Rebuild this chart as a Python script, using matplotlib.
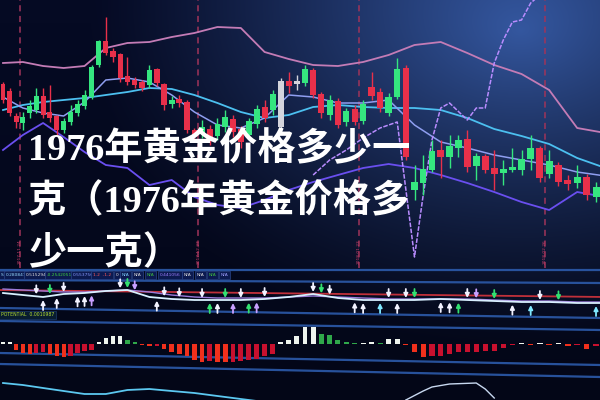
import numpy as np
import matplotlib
matplotlib.use("Agg")
from matplotlib import pyplot as plt

# ---- candles (price levels) ----
opens = [215, 208, 183, 177, 187, 190, 203, 187, 183, 170, 178, 187, 194, 203, 235,
         258, 248, 245, 223, 219, 217, 215, 230, 215, 196, 200, 197, 169, 167, 170,
         164, 173, 180, 170, 165, 176, 192, 190, 173, 218, 216, 217, 229, 205, 185,
         198, 178, 190, 179, 212, 207, 187, 203, 231, 110, 117, 130, 149, 143, 152,
         160, 134, 143, 131, 127, 130, 130, 141, 151, 126, 134, 119, 117, 122, 103]
closes = [200, 187, 178, 182, 193, 203, 185, 182, 170, 178, 187, 195, 204, 232, 258,
          247, 243, 222, 218, 215, 212, 229, 217, 195, 199, 197, 170, 165, 172, 160,
          175, 182, 168, 158, 178, 190, 182, 205, 218, 214, 218, 230, 205, 187, 199,
          175, 188, 178, 195, 204, 192, 202, 230, 143, 117, 130, 148, 143, 153, 159,
          133, 143, 130, 126, 130, 132, 140, 151, 122, 138, 118, 116, 122, 105, 112]
highs = [218, 212, 187, 188, 200, 212, 212, 215, 185, 182, 195, 200, 210, 235, 260,
         283, 252, 247, 243, 223, 220, 235, 232, 217, 204, 205, 200, 172, 180, 175,
         182, 190, 185, 174, 182, 195, 200, 210, 222, 228, 225, 235, 232, 208, 205,
         202, 192, 195, 200, 228, 212, 207, 242, 235, 135, 145, 160, 160, 165, 165,
         170, 147, 146, 150, 140, 152, 150, 165, 154, 150, 138, 125, 135, 126, 118]
lows = [197, 184, 172, 170, 182, 187, 182, 178, 165, 167, 175, 184, 191, 201, 233,
        245, 238, 218, 215, 212, 209, 212, 214, 190, 192, 193, 167, 160, 162, 155,
        160, 168, 163, 152, 160, 172, 178, 185, 170, 207, 210, 214, 202, 182, 180,
        172, 174, 175, 176, 200, 188, 184, 201, 140, 100, 105, 128, 122, 132, 143,
        128, 120, 127, 110, 115, 128, 125, 130, 118, 122, 114, 110, 112, 100, 98]
white_candles = [38, 40]

# ---- moving averages, sampled every 3 bars ----
ma_t = list(range(0, 76, 3))
ma_pink = [237, 238, 234, 232, 234, 252, 257, 258, 263, 267, 273, 272, 248,
           241, 235, 234, 238, 245, 255, 258, 247, 235, 226, 210, 172, 167]
ma_cyan = [190, 195, 198, 200, 202, 205, 208, 212, 211, 205, 197, 188, 182,
           185, 193, 195, 193, 192, 192, 190, 182, 171, 164, 156, 142, 132]
ma_fast = [203, 192, 187, 184, 198, 220, 222, 218, 205, 188, 175, 172, 182,
           205, 203, 197, 197, 200, 175, 158, 152, 145, 140, 135, 128, 124]
ma_purple = [150, 165, 177, 163, 148, 135, 132, 115, 120, 103, 95, 92, 100,
             110, 118, 125, 132, 136, 132, 125, 117, 108, 98, 90, 108, 103]

zig_t = [42, 44, 46, 48, 50, 52, 54, 55, 56, 57, 58, 60, 61, 62, 63, 64, 65, 66, 67, 68]
zig_v = [125, 140, 150, 162, 172, 178, 43, 105, 160, 192, 197, 180, 192, 192,
         237, 260, 278, 280, 297, 305]

sep_t = [2.5, 27.5, 47.5, 68.5]
sep_dates = ["2017.11.24", "2017.12.27", "2018.01.23", "2018.02.26"]

# ---- signal panel ----
signal = [23, 21, 19, 22, 23, 25, 26, 19, 17, 16, 16, 16, 17,
          19, 22, 18, 16, 16, 16, 17, 16, 15, 14, 14, 13, 13]
signal_slow = [27, 26, 25, 24, 24, 25, 26, 24, 21, 19, 18, 18, 18,
               19, 20, 19, 18, 17, 17, 17, 17, 16, 15, 15, 14, 14]
red_level_t = [-1, 75]
red_level = [26, 19]
arrow_t = [5, 6, 7, 8, 9, 11, 12, 13, 17, 18, 19, 22, 23, 25, 28, 29, 30, 31, 32, 33,
           34, 35, 36, 42, 43, 44, 47, 48, 50, 51, 52, 53, 54, 57, 58, 59, 60, 61, 63,
           65, 67, 68, 70, 74]
arrow_dir = ["d", "u", "d", "u", "d", "u", "u", "u", "d", "d", "d", "u", "d", "d", "d",
             "u", "u", "d", "u", "d", "u", "u", "d", "d", "d", "d", "u", "u", "u", "d",
             "u", "d", "d", "u", "u", "u", "d", "d", "d", "u", "u", "d", "d", "u"]
arrow_kind = ["w", "w", "g", "w", "w", "w", "w", "p", "w", "g", "p", "w", "w", "w", "w",
              "g", "w", "g", "p", "w", "g", "p", "w", "w", "g", "w", "w", "w", "c", "w",
              "w", "w", "g", "w", "w", "g", "w", "p", "g", "w", "c", "w", "g", "c"]

# ---- histogram panel ----
hist = [2, 2, -6, -9, -10, -9, -8, -10, -12, -13, -12, -9, -7, -6,
        2, 6, 8, 8, 4, 2,
        -1, -2, -2, -5, -8, -10, -12, -16, -18, -17, -19, -20, -18, -17, -16, -15, -12, -10,
        2, 4, 8, 17, 17, 10, 9, 4, 2, 1, 1, 2, 1, 5, 5,
        -1, -8, -13, -12, -12, -10, -8, -8, -8, -7, -7, -4, -1, 1, -1, 1, -1, 1, -2, -1, -5, -2]

# ---- bottom panel ----
low_line = [17, 15, 12, 9, 6, 6, 10, 11, 9, 7, 4, 1, -2]
arc_t = [53, 55, 56, 58, 61, 62, 63]
arc_v = [0, 9, 13, 16, 17, 11, 2]

strip_text = ["S", "0.280847", "0.515294", "-0.2542051", "0.553756", "1.2  -1.2", "0",
              "N/A", "N/A", "N/A", "0.441056", "N/A", "N/A", "N/A", "N/A"]
strip_x = [1, 6, 26, 47, 73, 93, 116, 122, 134, 147, 160, 184, 197, 209, 221]
strip_col = ["#9adcff", "#9adcff", "#e0e0e0", "#40d040", "#8a9cff", "#ff5a5a", "#e0e0e0",
             "#80d0ff", "#e0e0e0", "#40c040", "#a080ff", "#e0e0e0", "#e0e0e0", "#40c040", "#a0a0ff"]

title_lines = ["1976年黄金价格多少一", "克（1976年黄金价格多", "少一克）"]

W, H = 600, 400
K = 0.003  # photo perspective: bars get wider to the right


def fwd(t):
    t = np.asarray(t, dtype=float)
    return t + K * t ** 2


def inv(f):
    f = np.asarray(f, dtype=float)
    return (np.sqrt(np.maximum(1 + 4 * K * f, 0)) - 1) / (2 * K)


fig = plt.figure(figsize=(6, 4), dpi=100)


def panel(top, bottom, ylim):
    ax = fig.add_axes([0, 1 - bottom / H, 1, (bottom - top) / H])
    ax.set_xscale("function", functions=(fwd, inv))
    ax.set_xlim(-0.46, 74.42)
    ax.set_ylim(*ylim)
    ax.set_axis_off()
    return ax


# background glow
yy, xx = np.mgrid[0:H, 0:W]
d = np.sqrt(((xx - 520) / 430) ** 2 + ((yy - 30) / 320) ** 2)
glow = np.clip(1 - d, 0, 1) ** 1.2
dark = np.array([0.02, 0.04, 0.14])
light = np.array([0.21, 0.35, 0.64])
img = dark + (light - dark) * glow[..., None]
img *= (1 - 0.35 * (yy / H))[..., None]
bg = fig.add_axes([0, 0, 1, 1])
bg.imshow(img, extent=[0, W, H, 0], aspect="auto")
bg.set_xlim(0, W)
bg.set_ylim(H, 0)
bg.set_axis_off()
for yl, yr in [(270, 270), (280, 283), (308, 318), (321, 330), (353, 365), (364, 377)]:
    bg.plot([0, W], [yl, yr], color="#2c5aaa", lw=1.6, alpha=0.9)

for x, s, c in zip(strip_x, strip_text, strip_col):
    bg.text(x, 275, s, color=c, fontsize=3.2, va="center", ha="left",
            bbox=dict(boxstyle="square,pad=0.35", fc="#0c1a50", ec="#2a4488", lw=0.5))
bg.text(1, 315, "POTENTIAL  0.0010987", color="#b8e030", fontsize=3.3, va="center",
        bbox=dict(boxstyle="square,pad=0.35", fc="#081c30", ec="#1d3a6a", lw=0.5))

# main chart
ax = panel(0, 268, (32, 300))
for ts in sep_t:
    ax.axvline(ts, color="#a0345a", lw=1.1, ls=(0, (4, 3)), zorder=1)
for ts, lab in zip(sep_t, sep_dates):
    ax.text(ts, 36, lab, rotation=90, ha="center", va="bottom", fontsize=3.2, color="#c8406a")

ax.plot(ma_t, ma_pink, color="#c47cb6", lw=1.3, zorder=2)
ax.plot(ma_t, ma_cyan, color="#4cc0f0", lw=1.3, zorder=2)
ax.plot(ma_t, ma_fast, color="#8f9ef0", lw=1.1, zorder=2)
ax.plot(ma_t, ma_purple, color="#6a4ff0", lw=1.3, zorder=2)
ax.plot(zig_t, zig_v, color="#b98cff", lw=1.1, ls=(0, (3, 1)), zorder=2)

t = np.arange(len(opens))
o = np.array(opens)
c = np.array(closes)
colors = ["#35e67f" if cc >= oo else "#e8304a" for oo, cc in zip(o, c)]
for i in white_candles:
    colors[i] = "#d4d4dc"
ax.vlines(t, lows, highs, colors=colors, lw=1, zorder=3)
ax.bar(t, np.abs(c - o) + 0.8, bottom=np.minimum(o, c), width=0.74, color=colors, lw=0, zorder=3)

# signal panel with arrows
sa = panel(280, 316, (0, 36))
sa.plot(red_level_t, red_level, color="#c0303a", lw=1.3)
sa.plot(ma_t, signal_slow, color="#9a7ad8", lw=1.0)
sa.plot(ma_t, signal, color="#d8f0ff", lw=1.3)
arrow_colors = {"w": "#f2f2ff", "g": "#32e070", "p": "#c8a0ff", "c": "#80e8ff"}
for at, ad, ak in zip(arrow_t, arrow_dir, arrow_kind):
    lv = np.interp(at, ma_t, signal)
    if ad == "d":
        tail, tip = lv + 11, lv + 2
    else:
        tail, tip = lv - 13, lv - 3
    sa.annotate("", xy=(at, tip), xytext=(at, tail),
                arrowprops=dict(arrowstyle="-|>", color=arrow_colors[ak], lw=1.3,
                                mutation_scale=6, shrinkA=0, shrinkB=0))

# histogram panel
ha = panel(322, 362, (-18, 22))
hcols = []
for i, v in enumerate(hist):
    prev = hist[i - 1] if i > 0 else 0
    if v >= 0:
        hcols.append("#eef4ee" if v >= prev else "#2fa84a")
    else:
        hcols.append("#f0301c" if v < prev else "#c8102e")
ha.bar(t, hist, width=0.6, color=hcols, lw=0)

# bottom panel
ba = panel(366, 400, (0, 34))
ba.plot(ma_t[:len(low_line)], low_line, color="#5cc8f0", lw=1.3)
ba.plot(arc_t, arc_v, color="#c8d8f0", lw=1.0)

# title
for k, line in enumerate(title_lines):
    fig.text(28 / W, 1 - (160 + 52 * k) / H, line, color="white", fontsize=27.5,
             fontweight="bold", family=["Liberation Serif", "Noto Sans CJK SC"], va="baseline")

fig.savefig("out.png", dpi=100)
plt.close()
